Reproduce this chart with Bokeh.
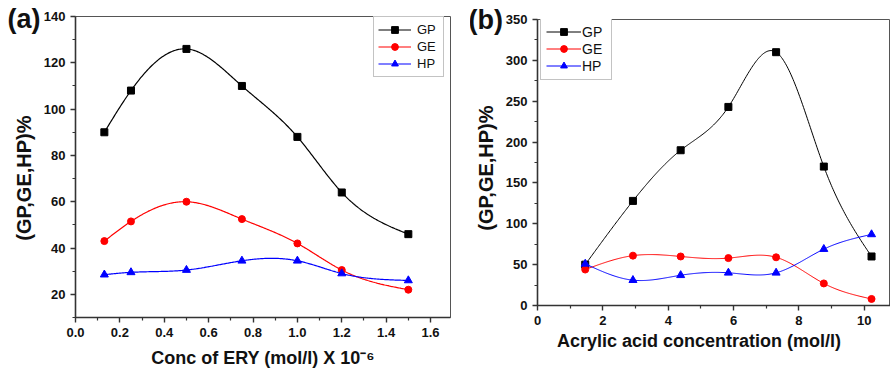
import numpy as np
from bokeh.plotting import figure
from bokeh.layouts import row, column
from bokeh.models import Range1d, FixedTicker, Legend, LegendItem, NumeralTickFormatter
from bokeh.embed import file_html
from bokeh.resources import INLINE

# ---------------- data: panel (a) ----------------
conc_ery = [0.13, 0.25, 0.50, 0.75, 1.00, 1.20, 1.50]
gp_a = [90, 108, 126, 110, 88, 64, 46]
ge_a = [43, 51.5, 60, 52.5, 42, 30.5, 22]
hp_a = [28.5, 29.5, 30.5, 34.5, 34.5, 29, 26]

# ---------------- data: panel (b) ----------------
acrylic = [1.46, 2.92, 4.38, 5.84, 7.30, 8.76, 10.22]
gp_b = [50, 128, 190, 243, 310, 170, 60]
ge_b = [44, 61, 60, 58, 59, 27, 8]
hp_b = [51, 31, 37, 40, 40, 69, 87]

series_names = ["GP", "GE", "HP"]
x_ticks_a = [0.0, 0.2, 0.4, 0.6, 0.8, 1.0, 1.2, 1.4, 1.6]
y_ticks_a = [20, 40, 60, 80, 100, 120, 140]
x_ticks_b = [0, 2, 4, 6, 8, 10]
y_ticks_b = [0, 50, 100, 150, 200, 250, 300, 350]

COLORS = ["#000000", "#FF0000", "#0000FF"]
MARKERS = ["square", "circle", "triangle"]
MSIZES = [7, 7, 8]
FONT = "Liberation Sans"
NB = "\u00a0"


def natural_spline(x, y, num=300):
    """Smooth connecting curve through the data points (natural cubic spline)."""
    x = np.asarray(x, float)
    y = np.asarray(y, float)
    n = len(x)
    h = np.diff(x)
    A = np.zeros((n, n))
    b = np.zeros(n)
    A[0, 0] = A[-1, -1] = 1
    for i in range(1, n - 1):
        A[i, i - 1] = h[i - 1]
        A[i, i] = 2 * (h[i - 1] + h[i])
        A[i, i + 1] = h[i]
        b[i] = 3 * ((y[i + 1] - y[i]) / h[i] - (y[i] - y[i - 1]) / h[i - 1])
    c = np.linalg.solve(A, b)
    bc = (y[1:] - y[:-1]) / h - h * (2 * c[:-1] + c[1:]) / 3
    d = (c[1:] - c[:-1]) / (3 * h)
    xs = np.linspace(x[0], x[-1], num)
    idx = np.clip(np.searchsorted(x, xs) - 1, 0, n - 2)
    dx = xs - x[idx]
    ys = y[idx] + bc[idx] * dx + c[idx] * dx ** 2 + d[idx] * dx ** 3
    return xs, ys


def mid_ticks(ticks):
    step = ticks[1] - ticks[0]
    return [t + step / 2 for t in ticks] + [ticks[0] - step / 2]


def style_axes(p, xt, yt, xfmt, yfmt, xstand, ystand):
    for ax, t, fmt, st, fs in ((p.xaxis[0], xt, xfmt, xstand, "18px"),
                               (p.yaxis[0], yt, yfmt, ystand, "20px")):
        ax.ticker = FixedTicker(ticks=t, minor_ticks=mid_ticks(t))
        ax.formatter = NumeralTickFormatter(format=fmt)
        ax.axis_line_color = "#333333"
        ax.axis_line_width = 1.6
        ax.major_tick_line_color = "#333333"
        ax.major_tick_line_width = 1.4
        ax.minor_tick_line_color = "#333333"
        ax.minor_tick_line_width = 1.2
        ax.major_tick_out = 5
        ax.major_tick_in = 0
        ax.minor_tick_out = 3
        ax.minor_tick_in = 0
        ax.major_label_text_font = FONT
        ax.major_label_text_font_style = "bold"
        ax.major_label_text_font_size = "13px"
        ax.major_label_text_color = "#111111"
        ax.major_label_standoff = 5
        ax.axis_label_text_font = FONT
        ax.axis_label_text_font_style = "bold"
        ax.axis_label_text_font_size = fs
        ax.axis_label_text_color = "#111111"
        ax.axis_label_standoff = st
    p.xgrid.visible = False
    p.ygrid.visible = False
    p.outline_line_color = "#555555"
    p.outline_line_width = 1


def style_title(p, offset, standoff):
    t = p.title
    t.align = "left"
    t.vertical_align = "bottom"
    t.offset = offset
    t.standoff = standoff
    t.text_font = FONT
    t.text_font_style = "bold"
    t.text_font_size = "27px"
    t.text_color = "#111111"


def add_series(p, xs, ys_list, line_width):
    items = []
    for name, ys, col, mk, ms in zip(series_names, ys_list, COLORS, MARKERS, MSIZES):
        sx, sy = natural_spline(xs, ys)
        r1 = p.line(sx, sy, line_color=col, line_width=line_width)
        r2 = p.scatter(xs, ys, marker=mk, size=ms, fill_color=col, line_color=col)
        items.append(LegendItem(label=name, renderers=[r1, r2]))
    return items


def make_legend(items, loc, font_size, glyph_w, label_w, standoff, padding):
    lg = Legend(items=items, location=loc)
    lg.label_text_font = FONT
    lg.label_text_font_size = font_size
    lg.label_text_color = "#111111"
    lg.glyph_width = glyph_w
    lg.glyph_height = 17
    lg.label_height = 17
    lg.label_width = label_w
    lg.label_standoff = standoff
    lg.spacing = 0
    lg.padding = padding
    lg.margin = 0
    lg.border_line_color = "#888888"
    lg.border_line_width = 1.2
    lg.background_fill_alpha = 1
    return lg


# ---------------- panel (a) ----------------
pa = figure(width=470, height=371, output_backend="svg", toolbar_location=None,
            title="(a)",
            x_range=Range1d(0, 1.69), y_range=Range1d(10, 140),
            min_border_left=75, min_border_right=20, min_border_top=16, min_border_bottom=54,
            x_axis_label="Conc of ERY (mol/l) X 10\u207b\u2076",
            y_axis_label="(GP,GE,HP)%" + NB * 4)
style_axes(pa, x_ticks_a, y_ticks_a, "0.0", "0", 8, 6)
style_title(pa, -68, -34)
items_a = add_series(pa, conc_ery, [gp_a, ge_a, hp_a], 1.2)
pa.add_layout(make_legend(items_a, (298, 240), "13px", 33, 22, 6, 4))

# ---------------- panel (b) ----------------
pb = figure(width=420, height=371, output_backend="svg", toolbar_location=None,
            title="(b)",
            x_range=Range1d(0, 10.8), y_range=Range1d(0, 350),
            min_border_left=67, min_border_right=0, min_border_top=19, min_border_bottom=66,
            x_axis_label="Acrylic acid concentration (mol/l)" + NB * 6,
            y_axis_label="(GP,GE,HP)%" + NB * 2)
style_axes(pb, x_ticks_b, y_ticks_b, "0", "0", 3, 6)
style_title(pb, -69, -31)
items_b = add_series(pb, acrylic, [gp_b, ge_b, hp_b], 1.0)
pb.add_layout(make_legend(items_b, (3, 225), "14px", 35, 24, 1, 5))

layout = row(column(pa), column(pb))
open("out.html", "w").write(file_html(layout, INLINE))
